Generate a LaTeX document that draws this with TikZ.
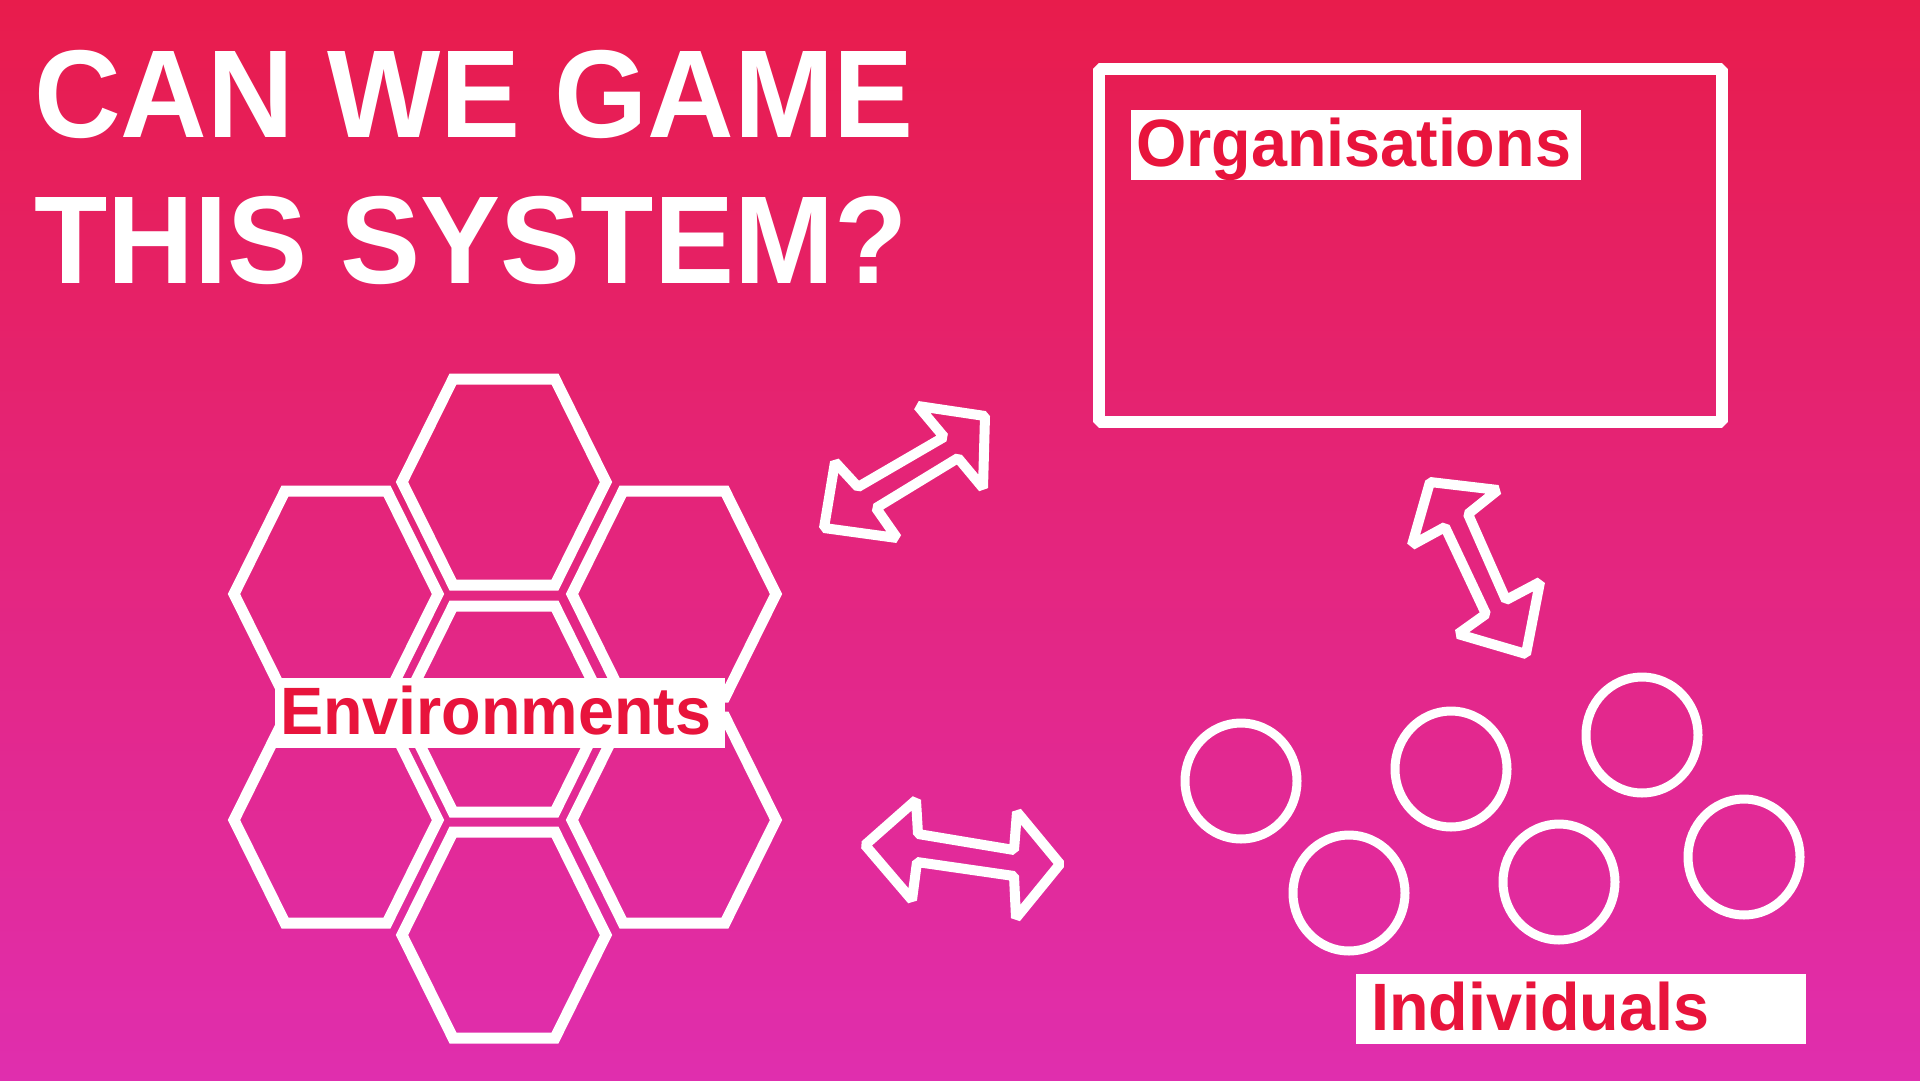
\documentclass[tikz,border=0pt]{standalone}
\usepackage{graphicx}
\usepackage{fontspec}
\setmainfont{Liberation Sans}
\usepackage{xcolor}
\definecolor{bgtop}{RGB}{232,28,76}
\definecolor{bgbottom}{RGB}{224,46,174}
\definecolor{labelred}{RGB}{232,20,60}
\newcommand{\titlefit}[1]{\scalebox{0.96}[1]{#1}}
\newcommand{\labelfit}[1]{\scalebox{0.965}[1]{#1}}
\tikzset{
	titletext/.style={text=white, anchor=base west, inner sep=0pt,
			font=\fontsize{125}{125}\selectfont\bfseries},
	labelbox/.style={fill=white, text=labelred, anchor=north west, inner xsep=5pt, inner ysep=0pt,
			text width=440pt, align=left, text height=56pt, text depth=14pt,
			font=\fontsize{67}{67}\selectfont\bfseries},
	hexcell/.style={draw=white, line width=11pt},
	orgframe/.style={draw=white, line width=12pt, line join=bevel},
	bigarrow/.style={draw=white, line width=10pt, line join=bevel},
	ring/.style={draw=white, line width=9pt}
}

\begin{document}
\begin{tikzpicture}[x=1pt,y=-1pt]
	% Background
	\useasboundingbox (0,0) rectangle (1920,1080);
	\shade[top color=bgtop, bottom color=bgbottom] (0,0) rectangle (1920,1080);
	% Title
	\node[titletext] (title1) at (34,137) {\titlefit{CAN WE GAME}};
	\node[titletext] (title2) at (34,283) {\titlefit{THIS SYSTEM?}};
	% Hexagons
	\foreach \cx/\cy in {504/482,504/709,504/935,336/594,336/820,674/594,674/820}
		\draw[hexcell] (\cx-102,\cy) -- ++(51,-103) -- ++(102,0) -- ++(51,103) -- ++(-51,103) -- ++(-102,0) -- cycle;
	\node[labelbox] (environments) at (275,678) {\labelfit{Environments}};
	% Organisations frame
	\draw[orgframe] (1099,69) rectangle (1722,422);
	\node[labelbox] (organisations) at (1131,110) {\labelfit{Organisations}};
	% Double arrows
	\draw[bigarrow] (944,437) -- (918,406) -- (985,416) -- (983,488) -- (958,458) -- (876,508) -- (897,538) -- (824,528) -- (835,462) -- (858,487) -- cycle;
	\draw[bigarrow] (1445,527) -- (1412,545) -- (1430,482) -- (1498,490) -- (1468,514) -- (1506,600) -- (1540,582) -- (1526,654) -- (1458,634) -- (1486,614) -- cycle;
	\draw[bigarrow] (918,834) -- (916,800) -- (865,845) -- (912,900) -- (917,862) -- (1014,876) -- (1016,918) -- (1060,864) -- (1017,812) -- (1014,850) -- cycle;
	% Individuals
	\foreach \cx/\cy in {1241/781,1451/769,1642/735,1349/893,1559/882,1744/857}
		\draw[ring] (\cx,\cy) ellipse [x radius=56, y radius=58];
	\node[labelbox] (individuals) at (1356,974) {\hspace*{10pt}\labelfit{Individuals}};
\end{tikzpicture}
\end{document}
